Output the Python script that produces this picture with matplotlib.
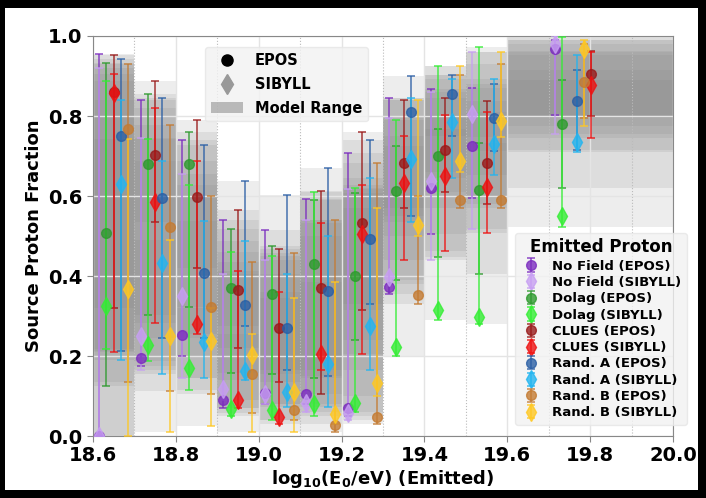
import numpy as np
import matplotlib
matplotlib.use("Agg")
import matplotlib.pyplot as plt
from matplotlib.lines import Line2D
from matplotlib.patches import Patch, Rectangle
from matplotlib.ticker import MultipleLocator, FormatStrFormatter

# Energy bins (log10 E / eV) and the centre around which each bin's points are placed
bin_edges = [18.6, 18.7, 18.8, 18.9, 19.0, 19.1, 19.2, 19.3, 19.4, 19.5, 19.6, 20.0]
point_centers = [18.65, 18.75, 18.85, 18.95, 19.05, 19.15, 19.25, 19.35, 19.45, 19.55, 19.75]

models = ["No Field", "Dolag", "CLUES", "Rand. A", "Rand. B"]

# Horizontal slot of each model inside a bin (last bin uses its own ordering)
slots_default = [0, 1, 2, 3, 4]
slots_last = [0, 1, 5, 3, 4]
slot_step = 0.0175

# ---- No Field ----
nofield_epos    = [0.000, 0.195, 0.253, 0.090, 0.108, 0.106, 0.069, 0.372, 0.620, 0.726, 0.967]
nofield_epos_lo = [0.000, 0.175, 0.200, 0.070, 0.080, 0.080, 0.050, 0.355, 0.506, 0.594, 0.802]
nofield_epos_hi = [0.955, 0.840, 0.741, 0.540, 0.516, 0.593, 0.707, 0.844, 0.867, 0.869, 0.990]
nofield_sib     = [0.000, 0.249, 0.350, 0.117, 0.106, 0.083, 0.058, 0.397, 0.638, 0.806, 0.981]
nofield_sib_lo  = [0.000, 0.165, 0.146, 0.090, 0.080, 0.060, 0.040, 0.380, 0.440, 0.518, 0.755]
nofield_sib_hi  = [0.919, 0.746, 0.655, 0.406, 0.439, 0.539, 0.618, 0.794, 0.860, 0.961, 1.000]

# ---- Dolag ----
dolag_epos    = [0.507, 0.680, 0.681, 0.370, 0.356, 0.431, 0.400, 0.613, 0.701, 0.615, 0.780]
dolag_epos_lo = [0.126, 0.302, 0.323, 0.158, 0.155, 0.144, 0.241, 0.389, 0.447, 0.406, 0.620]
dolag_epos_hi = [0.932, 0.856, 0.759, 0.517, 0.476, 0.589, 0.608, 0.724, 0.767, 0.732, 0.890]
dolag_sib     = [0.326, 0.227, 0.171, 0.067, 0.066, 0.079, 0.083, 0.223, 0.314, 0.298, 0.551]
dolag_sib_lo  = [0.217, 0.188, 0.115, 0.050, 0.040, 0.050, 0.060, 0.200, 0.290, 0.280, 0.522]
dolag_sib_hi  = [0.888, 0.742, 0.628, 0.461, 0.450, 0.609, 0.620, 0.790, 0.925, 0.973, 0.998]

# ---- CLUES ----
clues_epos    = [0.860, 0.703, 0.598, 0.366, 0.271, 0.370, 0.532, 0.682, 0.716, 0.682, 0.906]
clues_epos_lo = [0.321, 0.534, 0.421, 0.219, 0.135, 0.106, 0.316, 0.570, 0.611, 0.580, 0.800]
clues_epos_hi = [0.952, 0.888, 0.790, 0.565, 0.468, 0.613, 0.761, 0.840, 0.846, 0.838, 0.963]
clues_sib     = [0.858, 0.586, 0.281, 0.091, 0.048, 0.206, 0.505, 0.632, 0.651, 0.623, 0.878]
clues_sib_lo  = [0.210, 0.283, 0.254, 0.070, 0.030, 0.166, 0.206, 0.441, 0.462, 0.508, 0.745]
clues_sib_hi  = [0.906, 0.821, 0.688, 0.412, 0.360, 0.532, 0.628, 0.751, 0.803, 0.811, 0.960]

# ---- Rand. A ----
randa_epos    = [0.749, 0.595, 0.408, 0.327, 0.271, 0.362, 0.493, 0.811, 0.855, 0.794, 0.838]
randa_epos_lo = [0.213, 0.246, 0.246, 0.274, 0.165, 0.150, 0.329, 0.550, 0.751, 0.713, 0.716]
randa_epos_hi = [0.942, 0.846, 0.728, 0.638, 0.603, 0.669, 0.741, 0.900, 0.902, 0.880, 0.914]
randa_sib     = [0.630, 0.433, 0.235, 0.163, 0.111, 0.179, 0.274, 0.692, 0.784, 0.730, 0.736]
randa_sib_lo  = [0.190, 0.154, 0.146, 0.140, 0.073, 0.073, 0.165, 0.534, 0.645, 0.653, 0.711]
randa_sib_hi  = [0.840, 0.687, 0.537, 0.487, 0.406, 0.499, 0.644, 0.844, 0.892, 0.892, 0.952]

# ---- Rand. B ----
randb_epos    = [0.767, 0.522, 0.323, 0.156, 0.065, 0.027, 0.048, 0.353, 0.590, 0.590, 0.886]
randb_epos_lo = [0.135, 0.113, 0.106, 0.057, 0.040, 0.010, 0.030, 0.330, 0.570, 0.570, 0.796]
randb_epos_hi = [0.931, 0.778, 0.601, 0.435, 0.457, 0.539, 0.682, 0.600, 0.902, 0.929, 0.980]
randb_sib     = [0.367, 0.249, 0.237, 0.202, 0.111, 0.054, 0.133, 0.528, 0.688, 0.788, 0.967]
randb_sib_lo  = [0.000, 0.011, 0.026, 0.011, 0.009, 0.030, 0.100, 0.500, 0.660, 0.748, 0.776]
randb_sib_hi  = [0.742, 0.491, 0.320, 0.256, 0.345, 0.385, 0.570, 0.840, 0.924, 0.961, 0.989]

series = [
    ("No Field", nofield_epos, nofield_epos_lo, nofield_epos_hi, nofield_sib, nofield_sib_lo, nofield_sib_hi),
    ("Dolag", dolag_epos, dolag_epos_lo, dolag_epos_hi, dolag_sib, dolag_sib_lo, dolag_sib_hi),
    ("CLUES", clues_epos, clues_epos_lo, clues_epos_hi, clues_sib, clues_sib_lo, clues_sib_hi),
    ("Rand. A", randa_epos, randa_epos_lo, randa_epos_hi, randa_sib, randa_sib_lo, randa_sib_hi),
    ("Rand. B", randb_epos, randb_epos_lo, randb_epos_hi, randb_sib, randb_sib_lo, randb_sib_hi),
]

epos_colors = ["#7b2cbf", "#2e9a2e", "#991a1a", "#2b5fa5", "#c47b32"]
sib_colors  = ["#c79ff2", "#33ee33", "#ee1111", "#22b5f0", "#ffc822"]

W, H = 706, 498
fig = plt.figure(figsize=(W / 100, H / 100), dpi=100, facecolor="black")
fig.patches.append(Rectangle((5 / W, 8 / H), 693 / W, 482 / H, transform=fig.transFigure,
                             facecolor="white", edgecolor="none", zorder=-10))
ax = fig.add_axes([93 / W, 62 / H, 580 / W, 400 / H])

edges = np.array(bin_edges)
centers = np.array(point_centers)
nb = len(centers)

handles = []
for m, (name, ev, elo, ehi, sv, slo, shi) in enumerate(series):
    slots = np.array([slots_default[m]] * (nb - 1) + [slots_last[m]])
    x = centers + (slots - 2) * slot_step
    ev, elo, ehi = map(np.array, (ev, elo, ehi))
    sv, slo, shi = map(np.array, (sv, slo, shi))

    # model range bands
    for b in range(nb):
        for lo, hi in ((elo[b], ehi[b]), (slo[b], shi[b])):
            ax.fill_between([edges[b], edges[b + 1]], lo, hi, color="gray",
                            alpha=0.14, lw=0, zorder=1)

    he = ax.errorbar(x, ev, yerr=[ev - elo, ehi - ev], fmt="o", color=epos_colors[m],
                     ms=7, capsize=3, elinewidth=1.2, capthick=1.2, alpha=0.8, zorder=3,
                     label=f"{name} (EPOS)")
    hs = ax.errorbar(x, sv, yerr=[sv - slo, shi - sv], fmt="d", color=sib_colors[m],
                     ms=9, capsize=3, elinewidth=1.2, capthick=1.2, alpha=0.8, zorder=3,
                     label=f"{name} (SIBYLL)")
    handles += [he, hs]

ax.set_xlim(18.6, 20.0)
ax.set_ylim(0.0, 1.0)
ax.xaxis.set_major_locator(MultipleLocator(0.2))
ax.xaxis.set_minor_locator(MultipleLocator(0.1))
ax.yaxis.set_major_locator(MultipleLocator(0.2))
ax.xaxis.set_major_formatter(FormatStrFormatter("%.1f"))
ax.yaxis.set_major_formatter(FormatStrFormatter("%.1f"))
ax.grid(True, which="major", color="#e4e4e4", lw=1.0, zorder=1.5)
ax.grid(True, which="minor", axis="x", color="#bbbbbb", lw=0.8, ls=":", zorder=1.5)
ax.tick_params(which="minor", length=0)
ax.tick_params(which="major", labelsize=14, length=4, color="#888888")
for lab in ax.get_xticklabels() + ax.get_yticklabels():
    lab.set_fontweight("bold")
for sp in ax.spines.values():
    sp.set_color("#888888")

ax.set_xlabel(r"$\mathbf{log_{10}(E_0/eV)}$ (Emitted)", fontsize=13, fontweight="bold", labelpad=2)
ax.set_ylabel("Source Proton Fraction", fontsize=13, fontweight="bold", labelpad=4)

# marker-type legend
proxy = [Line2D([], [], marker="o", color="black", ls="none", ms=8),
         Line2D([], [], marker="d", color="#999999", ls="none", ms=10),
         Patch(facecolor="gray", alpha=0.5, edgecolor="none")]
leg1 = ax.legend(proxy, ["EPOS", "SIBYLL", "Model Range"], loc="upper center",
                 bbox_to_anchor=(0.334, 0.99), prop={"weight": "bold", "size": 10.5},
                 facecolor="#f2f2f2", edgecolor="#e6e6e6", framealpha=0.8,
                 labelspacing=0.6, handlelength=2.2)
ax.add_artist(leg1)

leg2 = ax.legend(handles=handles, loc="lower right", bbox_to_anchor=(1.035, 0.012),
                 title="Emitted Proton", prop={"weight": "bold", "size": 9.5},
                 title_fontproperties={"weight": "bold", "size": 12},
                 facecolor="#f2f2f2", edgecolor="#e6e6e6", framealpha=0.8,
                 labelspacing=0.25, handlelength=1.6, borderpad=0.4)
leg2.set_zorder(5)

fig.savefig("out.png", dpi=100, facecolor=fig.get_facecolor())
